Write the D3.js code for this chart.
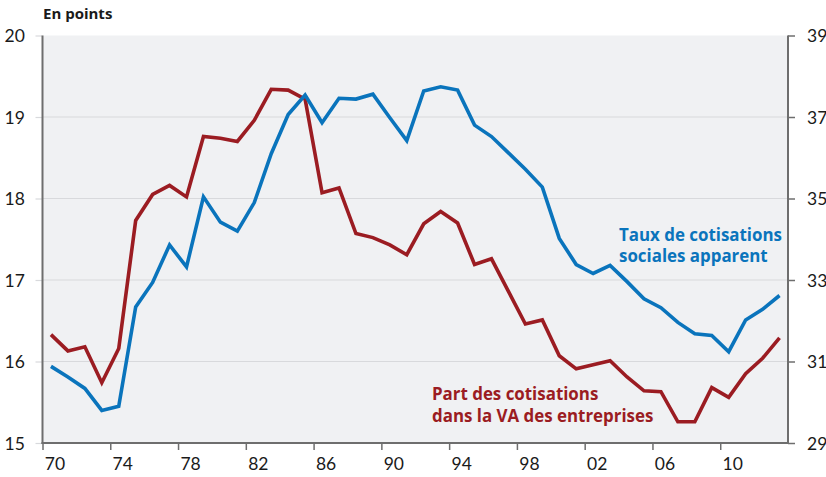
<!DOCTYPE html>
<html><head><meta charset="utf-8">
<script src="https://cdn.jsdelivr.net/npm/d3@7"></script>
<style>
html,body{margin:0;padding:0;background:#fff;}
svg{display:block;}
text{font-family:"Lato","Open Sans",sans-serif;}
.lbl{font-family:"Open Sans",sans-serif;}
</style></head>
<body>
<svg id="c" width="826" height="477"></svg>
<script>
const years = d3.range(1970, 2014);
// Part des cotisations dans la VA des entreprises (left axis, points)
const partVA = [16.33,16.13,16.18,15.74,16.16,17.73,18.05,18.16,18.02,18.76,
  18.74,18.70,18.96,19.34,19.33,19.22,18.07,18.13,17.57,17.52,
  17.43,17.31,17.69,17.84,17.70,17.19,17.26,16.86,16.46,16.51,
  16.07,15.91,15.96,16.01,15.81,15.64,15.63,15.26,15.26,15.68,
  15.56,15.85,16.04,16.29];
// Taux de cotisations sociales apparent (right axis)
const tauxApp = [30.88,30.62,30.34,29.80,29.90,32.34,32.94,33.86,33.32,35.04,
  34.42,34.20,34.90,36.10,37.06,37.54,36.86,37.46,37.44,37.56,
  36.98,36.42,37.64,37.74,37.66,36.80,36.52,36.12,35.72,35.28,
  34.02,33.38,33.16,33.36,32.96,32.54,32.32,31.96,31.68,31.64,
  31.24,32.02,32.28,32.62];
const leftTicks = [15,16,17,18,19,20];
const rightTicks = [29,31,33,35,37,39];
const xTickYears = [1970,1974,1978,1982,1986,1990,1994,1998,2002,2006,2010];

const svg = d3.select("#c");
const L = 42.5, R = 788, T = 35.5, B = 443;
const x = d3.scaleLinear().domain([1970, 2014]).range([L, R]);
const yL = d3.scaleLinear().domain([15, 20]).range([B, T]);
const yR = d3.scaleLinear().domain([29, 39]).range([B, T]);

svg.append("rect").attr("x", L).attr("y", T).attr("width", R - L).attr("height", B - T).attr("fill", "#f0f1f3");

// gridlines
svg.append("g").selectAll("line").data([16,17,18,19]).join("line")
  .attr("x1", L).attr("x2", R).attr("y1", d => yL(d)).attr("y2", d => yL(d))
  .attr("stroke", "#d8d9dc").attr("stroke-width", 1.2);

// left axis
const gL = svg.append("g").attr("transform", `translate(${L},0)`)
  .call(d3.axisLeft(yL).tickValues(leftTicks).tickSize(7).tickPadding(16).tickFormat(d3.format("d")));
gL.select(".domain").remove();
gL.selectAll(".tick line").attr("stroke", "#d8d9dc").attr("stroke-width", 1.2);
gL.selectAll(".tick text").attr("font-size", 17.5).attr("fill", "#1a1a1a").attr("text-anchor", "start").attr("x", -38).attr("dy", "0.36em");

// right axis
const gR = svg.append("g").attr("transform", `translate(${R},0)`)
  .call(d3.axisRight(yR).tickValues(rightTicks).tickSize(7).tickPadding(12).tickFormat(d3.format("d")));
gR.select(".domain").remove();
gR.selectAll(".tick line").attr("stroke", "#6e6e6e").attr("stroke-width", 1.5);
gR.selectAll(".tick text").attr("font-size", 17.5).attr("fill", "#1a1a1a").attr("dy", "0.36em");

// bottom axis
const gB = svg.append("g").attr("transform", `translate(0,${B})`)
  .call(d3.axisBottom(x).tickValues(xTickYears).tickSize(7).tickPadding(8).tickFormat(d => String(d).slice(2)));
gB.select(".domain").remove();
gB.selectAll(".tick line").attr("stroke", "#6e6e6e").attr("stroke-width", 1.5);
gB.selectAll(".tick text").attr("font-size", 17.5).attr("fill", "#1a1a1a").attr("x", 12);

// axis frame lines
svg.append("line").attr("x1", L).attr("x2", L).attr("y1", T).attr("y2", B + 1).attr("stroke", "#6e6e6e").attr("stroke-width", 2);
svg.append("line").attr("x1", R).attr("x2", R).attr("y1", T).attr("y2", B + 1).attr("stroke", "#6e6e6e").attr("stroke-width", 2);
svg.append("line").attr("x1", L - 1).attr("x2", R + 1).attr("y1", B).attr("y2", B).attr("stroke", "#6e6e6e").attr("stroke-width", 2);

// lines
const lineL = d3.line().x((d, i) => x(years[i] + 0.5)).y(d => yL(d));
const lineR = d3.line().x((d, i) => x(years[i] + 0.5)).y(d => yR(d));
svg.append("path").datum(partVA).attr("d", lineL).attr("fill", "none")
  .attr("stroke", "#9b1c22").attr("stroke-width", 3.6).attr("stroke-linejoin", "miter");
svg.append("path").datum(tauxApp).attr("d", lineR).attr("fill", "none")
  .attr("stroke", "#0a74bc").attr("stroke-width", 3.6).attr("stroke-linejoin", "miter");

// texts
svg.append("text").attr("class", "lbl").attr("x", 43).attr("y", 19).attr("font-size", 15).attr("font-weight", "bold").attr("fill", "#1a1a1a").text("En points");

const blueLbl = svg.append("text").attr("class", "lbl").attr("font-size", 16.9).attr("font-weight", "bold").attr("fill", "#0a74bc");
blueLbl.append("tspan").attr("x", 619).attr("y", 241).text("Taux de cotisations");
blueLbl.append("tspan").attr("x", 619).attr("y", 262).text("sociales apparent");

const redLbl = svg.append("text").attr("class", "lbl").attr("font-size", 16.9).attr("font-weight", "bold").attr("fill", "#9b1c22");
redLbl.append("tspan").attr("x", 432).attr("y", 400).text("Part des cotisations");
redLbl.append("tspan").attr("x", 432).attr("y", 422).text("dans la VA des entreprises");
</script>
</body></html>
